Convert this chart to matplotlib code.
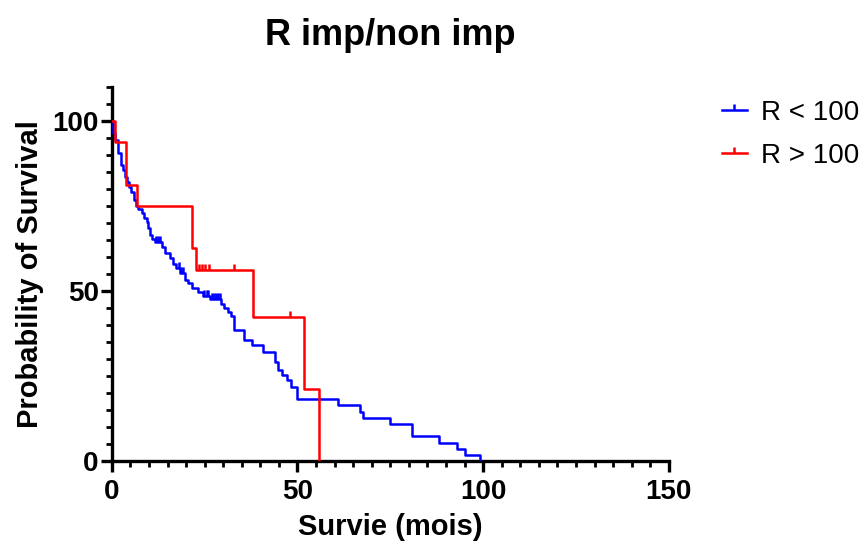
import numpy as np
import matplotlib
matplotlib.use("Agg")
import matplotlib.pyplot as plt
from matplotlib.lines import Line2D
from matplotlib.ticker import MultipleLocator

plt.rcParams["font.family"] = ["Liberation Sans", "DejaVu Sans"]

# Kaplan-Meier steps (time in months, survival in %)
low_times = [0, 0.4, 0.8, 1.6, 2.5, 3.0, 3.6, 4.0, 4.7, 5.1, 6.1, 6.6, 7.0,
             8.1, 8.6, 9.4, 9.7, 10.2, 10.8, 11.6, 13.5, 14.3, 15.6, 16.4,
             17.2, 18.3, 19.7, 20.5, 21.6, 23.2, 24.5, 26.4, 29.5, 30.3,
             31.2, 32.0, 32.8, 35.5, 37.7, 40.7, 43.9, 44.8, 45.8, 47.1,
             48.2, 49.8, 60.8, 66.8, 67.7, 75.0, 80.9, 88.1, 93.0, 95.1, 99.1]
low_surv = [100, 96.5, 94.4, 90.6, 87.0, 85.5, 83.5, 82.0, 80.5, 79.0, 76.8,
            75.0, 74.1, 72.9, 71.5, 70.2, 68.5, 66.5, 65.4, 64.4, 62.8, 61.2,
            59.6, 58.0, 56.6, 55.3, 53.2, 52.4, 51.0, 49.7, 48.5, 47.5, 46.2,
            45.0, 43.8, 42.5, 38.5, 35.6, 34.1, 32.1, 29.1, 26.8, 25.3, 23.8,
            21.8, 18.1, 16.3, 14.5, 12.7, 10.9, 7.3, 5.4, 3.6, 1.8, 0]
low_censor = [11.9, 12.4, 12.9, 18.0, 18.6, 19.2, 24.9, 25.5, 26.0,
              26.9, 27.5, 28.1, 28.7, 29.2]

high_times = [0, 0.8, 3.8, 6.8, 21.7, 22.6, 37.9, 51.8, 55.8]
high_surv = [100, 93.75, 81.25, 75.0, 62.5, 56.25, 42.19, 21.09, 0]
high_censor = [23.6, 24.4, 25.2, 26.1, 32.9, 47.9]

groups = ["R < 100", "R > 100"]
colors = ["#0000FF", "#FF0000"]


def surv_at(times, surv, t):
    idx = np.searchsorted(times, t, side="right") - 1
    return np.array(surv)[idx]


fig = plt.figure(figsize=(8.67, 5.5), dpi=100)
ax = fig.add_axes([0.129, 0.162, 0.6424, 0.68])

series = [(low_times, low_surv, low_censor), (high_times, high_surv, high_censor)]
for (t, s, c), col in zip(series, colors):
    ax.step(t, s, where="post", color=col, lw=1.8, zorder=3)
    ax.plot(c, surv_at(t, s, c), linestyle="none", marker=2,
            markersize=4.5, mew=1.8, color=col, zorder=3)

ax.set_xlim(0, 150)
ax.set_ylim(0, 110)
ax.xaxis.set_major_locator(MultipleLocator(50))
ax.xaxis.set_minor_locator(MultipleLocator(5))
ax.yaxis.set_major_locator(MultipleLocator(50))
ax.yaxis.set_minor_locator(MultipleLocator(5))

for side in ["top", "right"]:
    ax.spines[side].set_visible(False)
for side in ["left", "bottom"]:
    ax.spines[side].set_linewidth(2.4)
    ax.spines[side].set_capstyle("projecting")

ax.tick_params(which="major", length=8, width=2.4, labelsize=20)
ax.tick_params(axis="y", which="major", pad=1.5)
ax.tick_params(axis="x", which="major", pad=5)
ax.tick_params(which="minor", length=4.5, width=2.0)
for lab in ax.get_xticklabels() + ax.get_yticklabels():
    lab.set_fontweight("bold")

ax.set_xlabel("Survie (mois)", fontsize=21, fontweight="bold", labelpad=6)
ax.set_ylabel("Probability of Survival", fontsize=21, fontweight="bold", labelpad=6)
ax.set_title("R imp/non imp", fontsize=26, fontweight="bold", pad=30)

handles = [Line2D([0], [0], color=col, lw=1.8, marker=2, markersize=4.5, mew=1.8)
           for col in colors]
ax.legend(handles, groups, loc="upper left", bbox_to_anchor=(1.095, 0.965),
          frameon=False, fontsize=20, handlelength=0.9, handletextpad=0.5,
          labelspacing=0.62, borderpad=0, borderaxespad=0)

fig.savefig("out.png", dpi=100)
